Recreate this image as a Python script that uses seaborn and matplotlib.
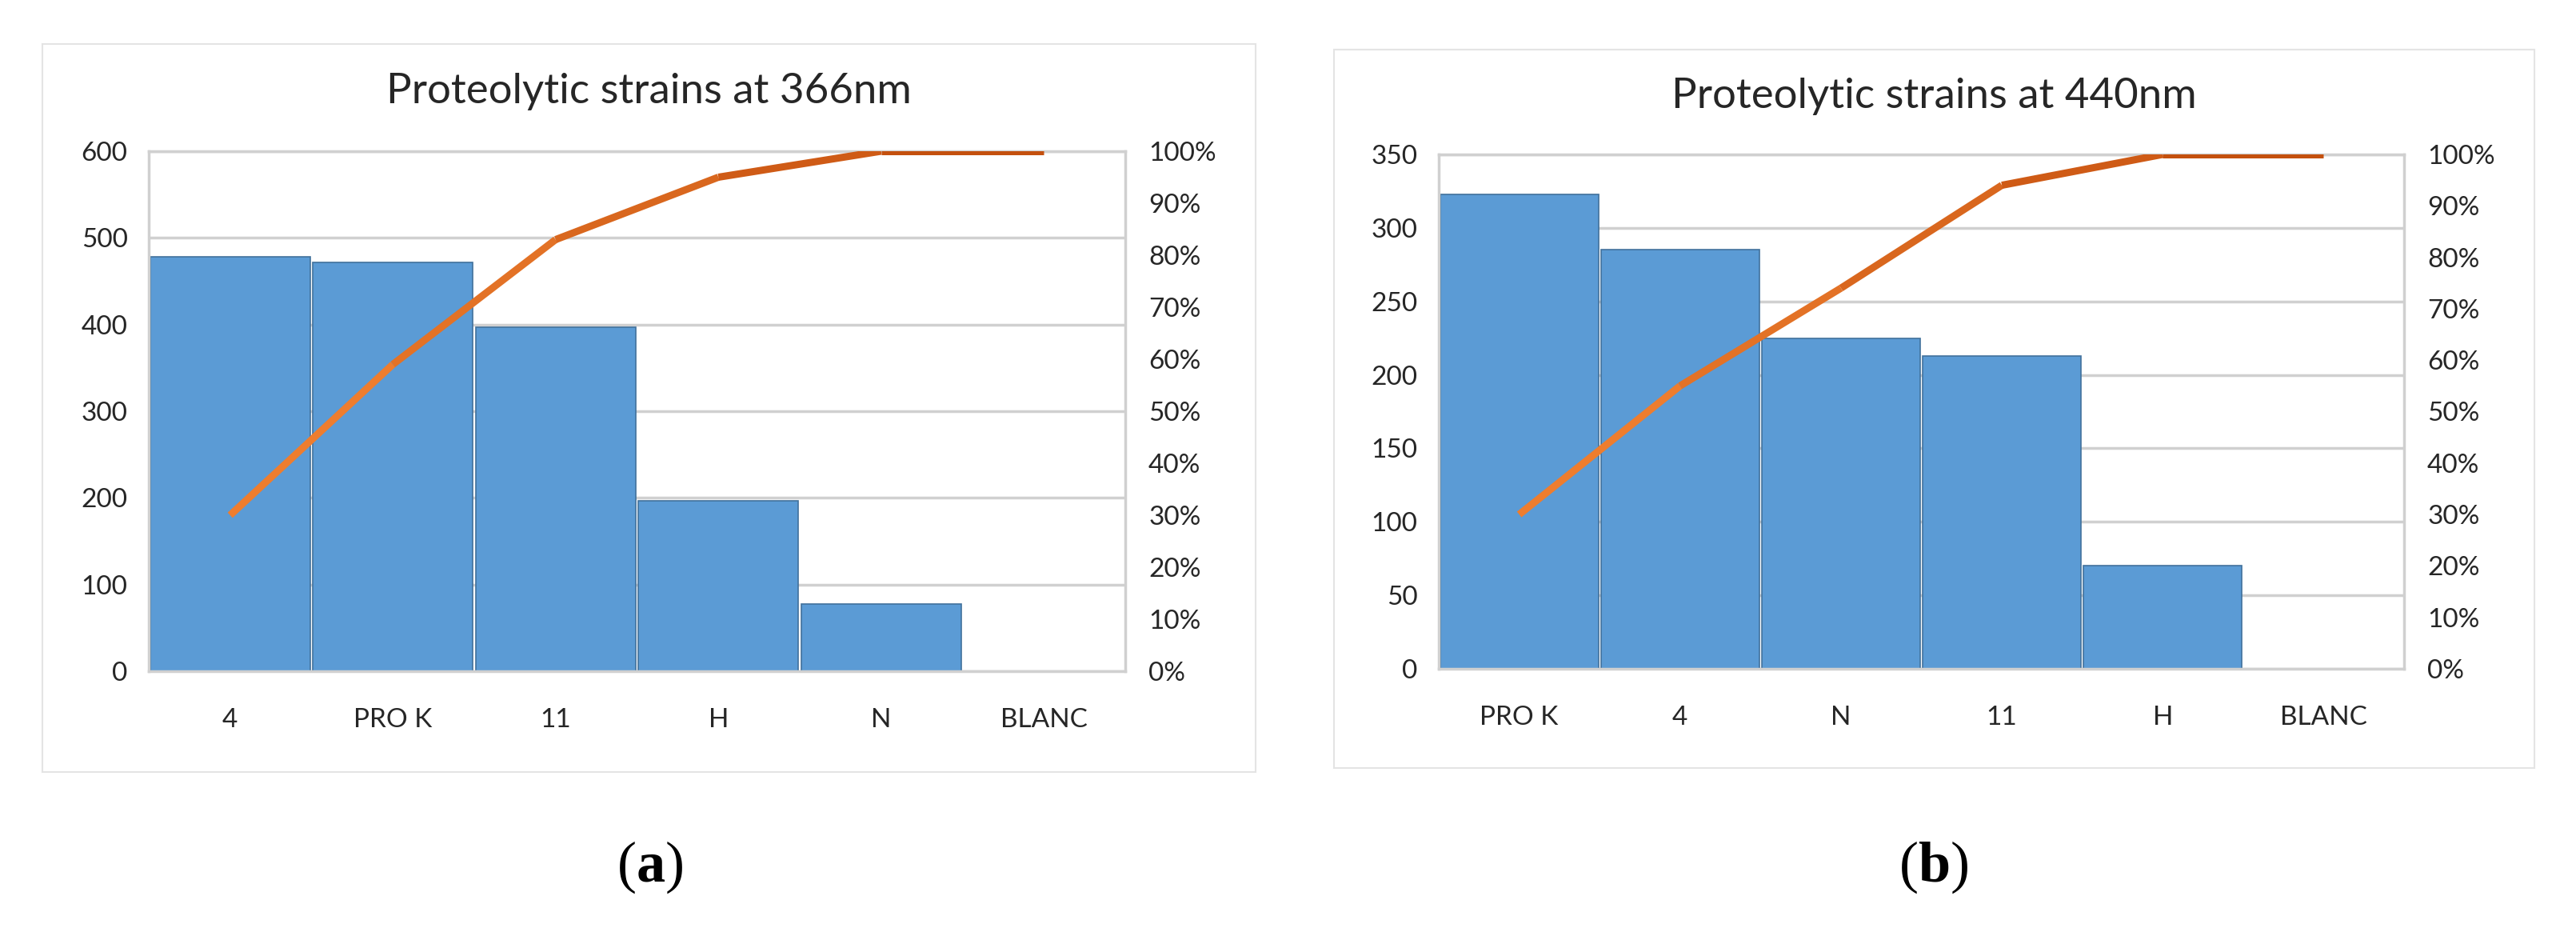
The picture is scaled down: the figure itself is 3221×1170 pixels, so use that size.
import numpy as np
import matplotlib
matplotlib.use("Agg")
import matplotlib.pyplot as plt
from matplotlib.patches import Rectangle
from matplotlib.colors import to_rgb
import seaborn as sns

# data
cats_a = ["4", "PRO K", "11", "H", "N", "BLANC"]
vals_a = [478, 472, 397, 197, 78, 0]
cum_a = [0.30, 0.59, 0.83, 0.95, 1.00, 1.00]

cats_b = ["PRO K", "4", "N", "11", "H", "BLANC"]
vals_b = [323, 285, 225, 213, 70, 0]
cum_b = [0.30, 0.55, 0.74, 0.94, 1.00, 1.00]

titles = ["Proteolytic strains at 366nm", "Proteolytic strains at 440nm"]
panel_tags = ["a", "b"]

sns.set_theme(style="white")
plt.rcParams["font.family"] = ["Lato", "DejaVu Sans"]
plt.rcParams["mathtext.fontset"] = "custom"
plt.rcParams["mathtext.rm"] = "Liberation Serif"
plt.rcParams["mathtext.bf"] = "Liberation Serif:bold"

W, H = 3221, 1170
fig = plt.figure(figsize=(W / 100, H / 100), dpi=100)
fig.patch.set_facecolor("white")

blue = "#5B9BD5"
edge = "#41719C"
grid_c = "#D0D0D0"
txt_c = "#262626"
orange1 = np.array(to_rgb("#EE7D2E"))
orange2 = np.array(to_rgb("#C4500E"))

panels = [
    dict(cats=cats_a, vals=vals_a, cum=cum_a, ymax=600, step=100,
         ax=[186, 189, 1407, 839], frame=[53, 55, 1570, 965], cx=811, ty=114, lx=813),
    dict(cats=cats_b, vals=vals_b, cum=cum_b, ymax=350, step=50,
         ax=[1799, 193, 3006, 836], frame=[1668, 62, 3169, 960], cx=2418, ty=120, lx=2418),
]

for i, p in enumerate(panels):
    x0, y0, x1, y1 = p["frame"]
    fig.add_artist(Rectangle((x0 / W, 1 - y1 / H), (x1 - x0) / W, (y1 - y0) / H,
                             transform=fig.transFigure, fill=False,
                             ec="#E4E4E4", lw=1.5))

    l, t, r, b = p["ax"]
    ax = fig.add_axes([l / W, 1 - b / H, (r - l) / W, (b - t) / H])
    sns.barplot(x=p["cats"], y=p["vals"], ax=ax, color=blue, saturation=1,
                width=0.985, edgecolor=edge, linewidth=1.2, zorder=2)
    ax.set_xlim(-0.5, len(p["cats"]) - 0.5)
    ax.set_ylim(0, p["ymax"])
    ax.set_yticks(np.arange(0, p["ymax"] + 1, p["step"]))
    ax.yaxis.grid(True, color=grid_c, lw=2.5)
    ax.set_axisbelow(True)
    for s in ax.spines.values():
        s.set_color(grid_c)
        s.set_linewidth(2.5)
    ax.tick_params(axis="y", length=0, labelsize=24, pad=19, colors=txt_c)
    ax.tick_params(axis="x", length=0, labelsize=24, pad=33, colors=txt_c)
    ax.set_xlabel("")
    ax.set_ylabel("")

    ax2 = ax.twinx()
    ax2.set_ylim(0, 1)
    ax2.set_yticks(np.arange(0, 1.01, 0.1))
    ax2.set_yticklabels([f"{int(round(v * 100))}%" for v in np.arange(0, 1.01, 0.1)])
    ax2.tick_params(axis="y", length=0, labelsize=24, pad=21, colors=txt_c)
    for s in ax2.spines.values():
        s.set_visible(False)
    n = len(p["cats"])
    for k in range(n - 1):
        f = k / (n - 2)
        c = orange1 * (1 - f) + orange2 * f
        ax2.plot(p["cats"][k:k + 2], p["cum"][k:k + 2], color=c, lw=6.5,
                 solid_capstyle="butt", solid_joinstyle="round")

    fig.text(p["cx"] / W, 1 - p["ty"] / H, titles[i], ha="center", va="center",
             fontsize=38, color=txt_c)
    fig.text(p["lx"] / W, 1 - 1084 / H, "($\\mathbf{" + panel_tags[i] + "}$)",
             ha="center", va="center", fontsize=52, color="black",
             family="Liberation Serif")

fig.savefig("out.png", dpi=100, facecolor="white")
